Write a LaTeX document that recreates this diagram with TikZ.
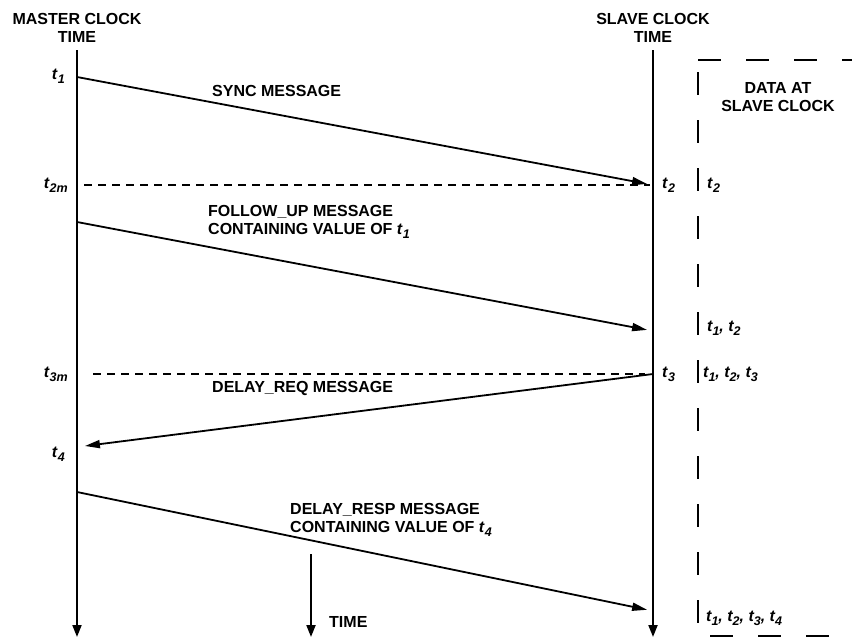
\documentclass[tikz,border=0pt]{standalone}
\usepackage{fontspec}
\setmainfont{Liberation Sans}
\usetikzlibrary{arrows.meta}
\newcommand{\tsub}[1]{\textit{t}\raisebox{-0.5ex}{\fontsize{12.5}{12.5}\selectfont\itshape #1}}
\tikzset{
  every node/.style={font=\fontsize{16}{18.5}\selectfont\bfseries, inner sep=0pt},
  clockline/.style={-{Triangle[length=12pt,width=9pt]}, line width=2pt},
  message/.style={-{Triangle[length=15pt,width=8pt]}, line width=1.8pt},
  guide/.style={line width=1.5pt, dash pattern=on 8pt off 6pt},
  databox/.style={line width=2pt, dash pattern=on 23pt off 25pt},
}
\begin{document}
\begin{tikzpicture}[x=1pt,y=-1pt]
  % pixel grid of the drawing, y runs downwards
  \useasboundingbox (0,0) rectangle (852,637);
  \node[align=center] (mhead) at (77,28) {MASTER CLOCK\\TIME};
  \node[align=center] (shead) at (653,28) {SLAVE CLOCK\\TIME};
  \coordinate (mtop) at (77,50);
  \coordinate (mbot) at (77,637);
  \coordinate (stop) at (653,50);
  \coordinate (sbot) at (653,637);
  \draw[clockline] (mtop) -- (mbot);
  \draw[clockline] (stop) -- (sbot);
  % timestamps at the master
  \node[anchor=east] (mt1) at (65,76) {\tsub{1}};
  \node[anchor=east] (mt2) at (68,185) {\tsub{2m}};
  \node[anchor=east] (mt3) at (68,374) {\tsub{3m}};
  \node[anchor=east] (mt4) at (65,454) {\tsub{4}};
  % timestamps at the slave
  \node[anchor=west] (st2) at (662,185) {\tsub{2}};
  \node[anchor=west] (st3) at (662,374) {\tsub{3}};
  % messages
  \coordinate (m1) at (77,77);
  \coordinate (s2) at (653,185);
  \coordinate (m2) at (84,185);
  \coordinate (s2d) at (650,185);
  \draw[guide] (m2) -- (s2d);
  \draw[message, shorten >=6pt] (m1) -- (s2);
  \node[anchor=west] (sync) at (212,91) {SYNC MESSAGE};
  \coordinate (m3) at (77,222);
  \coordinate (s3) at (653,331);
  \draw[message, shorten >=6pt] (m3) -- (s3);
  \node[anchor=west, align=left] (follow) at (208,222) {FOLLOW\_UP MESSAGE\\CONTAINING VALUE OF \tsub{1}};
  \coordinate (s4) at (653,374);
  \coordinate (m4) at (77,447);
  \coordinate (m3d) at (93,374);
  \coordinate (s4d) at (645,374);
  \draw[guide] (m3d) -- (s4d);
  \draw[message, shorten >=8pt] (s4) -- (m4);
  \node[anchor=west] (req) at (212,388) {DELAY\_REQ MESSAGE};
  \coordinate (m5) at (77,492);
  \coordinate (s5) at (653,611);
  \draw[message, shorten >=6pt] (m5) -- (s5);
  \node[anchor=west, align=left] (resp) at (290,520) {DELAY\_RESP MESSAGE\\CONTAINING VALUE OF \tsub{4}};
  % time direction
  \coordinate (ttop) at (311,554);
  \coordinate (tbot) at (311,637);
  \draw[clockline] (ttop) -- (tbot);
  \node[anchor=west] (time) at (329,622) {TIME};
  % data held by the slave
  \draw[databox] (698,60) -- (852,60);
  \draw[databox] (698,72) -- (698,623);
  \draw[databox] (710,636) -- (835,636);
  \node[align=center] (data) at (778,97) {DATA AT\\SLAVE CLOCK};
  \node[anchor=west] (d1) at (707,185) {\tsub{2}};
  \node[anchor=west] (d2) at (707,328) {\itshape \tsub{1}, \tsub{2}};
  \node[anchor=west] (d3) at (703,374) {\itshape \tsub{1}, \tsub{2}, \tsub{3}};
  \node[anchor=west] (d4) at (706,618) {\itshape \tsub{1}, \tsub{2}, \tsub{3}, \tsub{4}};
\end{tikzpicture}
\end{document}
